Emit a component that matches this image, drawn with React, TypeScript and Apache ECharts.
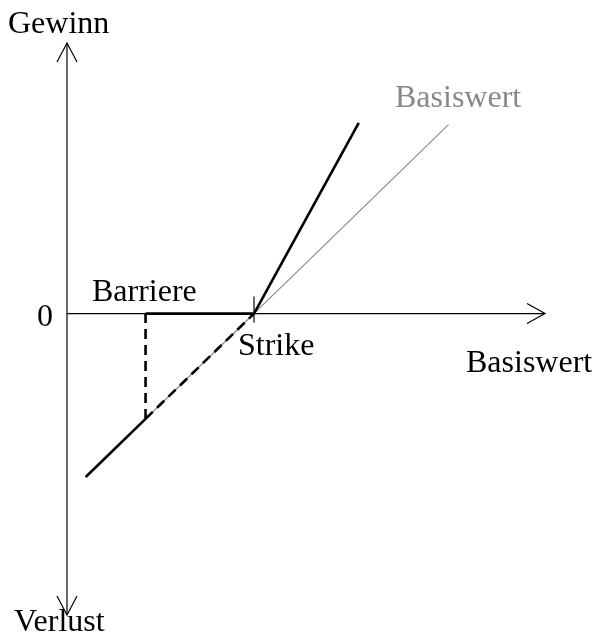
import React, { useEffect, useRef } from "react";
import * as echarts from "echarts";

// Axis extents (data units)
const xAxisRange = [0, 255.6];
const yAxisRange = [-166, 149];

// Key levels
const barrier = 42;
const strike = 100;

// Underlying (Basiswert) payoff line
const underlying: [number, number][] = [
  [10, -90],
  [204, 104],
];
// Certificate payoff pieces
const belowBarrier: [number, number][] = [
  [10, -90],
  [42, -58],
];
const dashedDiagonal: [number, number][] = [
  [42, -58],
  [100, 0],
];
const dashedVertical: [number, number][] = [
  [42, -58],
  [42, 0],
];
const flatPart: [number, number][] = [
  [42, 0],
  [100, 0],
];
const leveragedPart: [number, number][] = [
  [100, 0],
  [156, 105],
];

const FONT = "Liberation Serif";
const FS = 32;

export default function App() {
  const ref = useRef<HTMLDivElement>(null);
  useEffect(() => {
    if (!ref.current) return;
    const chart = echarts.init(ref.current, undefined, { renderer: "svg" });
    const lineSeries = (data: [number, number][], color: string, width: number, type: any = "solid", z = 3) => ({
      type: "line",
      data,
      symbol: "none",
      silent: true,
      z,
      lineStyle: { color, width, type, cap: "butt" },
    });
    const txt = (text: string, x: number, y: number, fill = "#000", align = "left") => ({
      type: "text",
      x,
      y,
      style: { text, font: `${FS}px "${FONT}"`, fill, align, verticalAlign: "middle", lineHeight: 26 },
    });
    chart.setOption({
      animation: false,
      grid: { left: 67, top: 43, width: 478, height: 572, containLabel: false },
      xAxis: {
        type: "value",
        min: xAxisRange[0],
        max: xAxisRange[1],
        axisLine: { show: false },
        axisTick: { show: false },
        axisLabel: { show: false },
        splitLine: { show: false },
      },
      yAxis: {
        type: "value",
        min: yAxisRange[0],
        max: yAxisRange[1],
        axisLine: { show: false },
        axisTick: { show: false },
        axisLabel: { show: false },
        splitLine: { show: false },
      },
      series: [
        {
          type: "custom",
          silent: true,
          z: 1,
          data: [[0, 0]],
          renderItem: (params: any, api: any) => {
            const o = api.coord([0, 0]);
            const top = api.coord([0, yAxisRange[1]]);
            const bot = api.coord([0, yAxisRange[0]]);
            const right = api.coord([xAxisRange[1], 0]);
            const s = api.coord([strike, 0]);
            const st = { stroke: "#000", lineWidth: 1.2, fill: null };
            return {
              type: "group",
              children: [
                { type: "line", shape: { x1: top[0], y1: top[1], x2: bot[0], y2: bot[1] }, style: st },
                { type: "line", shape: { x1: o[0], y1: o[1], x2: right[0], y2: right[1] }, style: st },
                { type: "polyline", shape: { points: [[top[0] - 10, top[1] + 19], [top[0], top[1]], [top[0] + 10, top[1] + 19]] }, style: st },
                { type: "polyline", shape: { points: [[bot[0] - 10, bot[1] - 19], [bot[0], bot[1]], [bot[0] + 10, bot[1] - 19]] }, style: st },
                { type: "polyline", shape: { points: [[right[0] - 18, right[1] - 10], [right[0], right[1]], [right[0] - 18, right[1] + 10]] }, style: st },
                { type: "line", shape: { x1: s[0], y1: s[1] - 17, x2: s[0], y2: s[1] + 9 }, style: st },
              ],
            };
          },
        },
        lineSeries(underlying, "#888888", 1.1, "solid", 2),
        lineSeries(belowBarrier, "#000", 2.6),
        lineSeries(dashedDiagonal, "#000", 2.6, [10, 6]),
        lineSeries(dashedVertical, "#000", 2.6, [10, 6]),
        lineSeries(flatPart, "#000", 2.8),
        lineSeries(leveragedPart, "#000", 2.6),
      ],
      graphic: [
        txt("Gewinn", 8, 22),
        txt("Verlust", 14, 620),
        txt("0", 45, 315, "#000", "center"),
        txt("Barriere", 92, 290),
        txt("Strike", 238, 344),
        txt("Basiswert", 466, 361),
        txt("Basiswert", 395, 96, "#888888"),
      ],
    });
    return () => chart.dispose();
  }, []);
  return <div ref={ref} style={{ position: "fixed", left: 0, top: 0, width: 595, height: 640 }} />;
}
